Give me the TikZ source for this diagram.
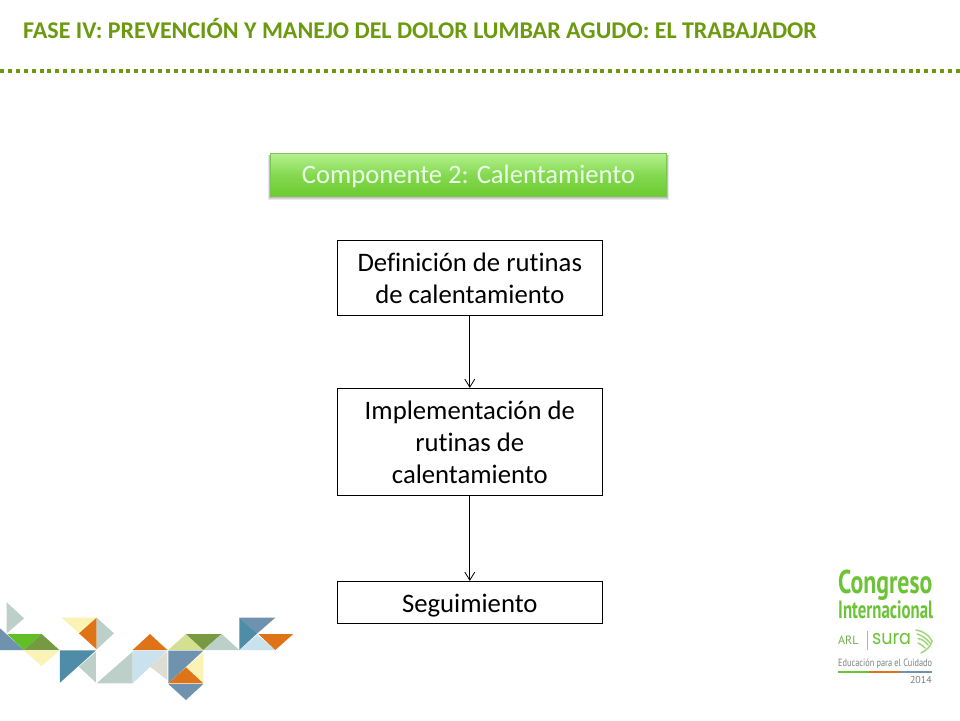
\documentclass[tikz,border=0pt]{standalone}
\usepackage{fontspec}
\usepackage{graphicx}
\setmainfont[Ligatures=CommonOff]{Carlito}
\newfontfamily\logofont{PT Sans}
\newfontfamily\surafont{Poppins}
\usetikzlibrary{arrows.meta}
\definecolor{hdr}{HTML}{6B9A0E}
\definecolor{tgray}{HTML}{BCCFC8}
\definecolor{tsteel}{HTML}{6F92AE}
\definecolor{tteal}{HTML}{4F8CA8}
\definecolor{tgreen}{HTML}{5FBF25}
\definecolor{tolive}{HTML}{769A42}
\definecolor{tyellow}{HTML}{FBF3B5}
\definecolor{torange}{HTML}{DE7417}
\definecolor{tpale}{HTML}{C9E2EE}
\definecolor{tbeige}{HTML}{DEDDD3}
\definecolor{tlime}{HTML}{D2E08F}
\definecolor{lgreen}{HTML}{6CC335}
\definecolor{lgray}{HTML}{77807F}
\definecolor{bartop}{HTML}{B4F28F}
\definecolor{barbot}{HTML}{6CCB2E}
\definecolor{baredge}{HTML}{7CC455}
\tikzset{
  flowbox/.style={draw=black,line width=0.8pt,fill=white,minimum width=265.5pt,align=center,font=\fontsize{26.7}{32}\selectfont,inner sep=0pt},
  flowarrow/.style={draw=black,line width=0.8pt,-{Straight Barb[length=8pt,width=10pt,line width=0.8pt]}},
  headbar/.style={draw=baredge,line width=0.6pt,top color=bartop,bottom color=barbot,middle color=barbot!65!bartop,minimum width=396.5pt,minimum height=43pt,inner sep=0pt,font=\fontsize{26.6}{28}\selectfont,text=white!92!green,text height=21pt,text depth=3pt},
  softshadow/.style={fill=black,opacity=0.09}
}
\newcommand{\tr}[4]{\fill[#1] #2 -- #3 -- #4 -- cycle;}
\begin{document}
\begin{tikzpicture}[x=1pt,y=-1pt]
\useasboundingbox (0,0) rectangle (960,720);
\fill[white] (0,0) rectangle (960,720);
\node[anchor=west,inner sep=0pt,text=hdr,font=\fontsize{24}{28}\selectfont\bfseries] (title) at (23,28.5) {FASE IV: PREVENCIÓN Y MANEJO DEL DOLOR LUMBAR AGUDO: EL TRABAJADOR};
\coordinate (dl) at (0,71); \coordinate (dr) at (960,71);
\draw[hdr,line width=4pt,dash pattern=on 4pt off 3.9pt] (dl) -- (dr);

\foreach \g in {0,1,2,3}{
  \fill[softshadow] (270-\g*0.7,155) rectangle (667+\g*0.7,196.5+\g);
}
\node[headbar] (comp) at (468.5,174.7) {Componente 2: Calentamiento};
\node[flowbox,minimum height=75.5pt] (b1) at (469.8,278) {Definición de rutinas\\de calentamiento};
\node[flowbox,minimum height=107.5pt] (b2) at (469.8,442) {Implementación de\\rutinas de\\calentamiento};
\node[flowbox,minimum height=42.5pt,text height=21pt,text depth=2pt] (b3) at (469.8,602.5) {Seguimiento};
\draw[flowarrow] (b1) -- (b2);
\draw[flowarrow] (b2) -- (b3);

% triangle mosaic
\begin{scope}[shift={(0,590)},x=0.3333pt,y=-0.3333pt]
\tr{tgray}{(20,37)}{(72,85)}{(20,130)}
\tr{tsteel}{(0,115)}{(72,180)}{(0,180)}
\tr{tgreen}{(22,132)}{(125,132)}{(72,180)}
\tr{tolive}{(125,132)}{(178,180)}{(72,180)}
\tr{tyellow}{(72,182)}{(178,182)}{(125,228)}
\tr{tyellow}{(185,83)}{(290,83)}{(237,130)}
\tr{torange}{(290,83)}{(290,178)}{(237,130)}
\tr{tgray}{(290,83)}{(342,130)}{(290,178)}
\tr{tteal}{(180,181)}{(288,181)}{(180,278)}
\tr{tgray}{(288,185)}{(288,278)}{(237,230)}
\tr{tgray}{(290,280)}{(398,185)}{(398,280)}
\tr{torange}{(450,132)}{(502,180)}{(398,180)}
\tr{tpale}{(398,182)}{(502,182)}{(398,280)}
\tr{tbeige}{(502,185)}{(502,270)}{(450,230)}
\tr{tlime}{(505,180)}{(558,132)}{(610,180)}
\tr{tolive}{(558,132)}{(665,132)}{(610,180)}
\tr{tgray}{(610,180)}{(665,132)}{(718,180)}
\tr{tsteel}{(505,182)}{(610,182)}{(505,280)}
\tr{tyellow}{(610,188)}{(610,280)}{(558,232)}
\tr{torange}{(558,232)}{(610,280)}{(505,280)}
\tr{tsteel}{(505,282)}{(610,282)}{(558,330)}
\tr{tsteel}{(718,83)}{(826,83)}{(772,130)}
\tr{tteal}{(718,83)}{(772,130)}{(718,180)}
\tr{tpale}{(718,180)}{(772,135)}{(826,180)}
\tr{torange}{(775,132)}{(880,132)}{(826,180)}
\end{scope}

% logo
\node[anchor=west,inner sep=0pt,text=lgreen] (lg1) at (838,585) {\scalebox{0.88}[1.22]{\logofont\fontsize{27}{27}\selectfont\bfseries Congreso}};
\node[anchor=west,inner sep=0pt,text=lgreen] (lg2) at (838,609.5) {\scalebox{0.84}[1.25]{\logofont\fontsize{20}{20}\selectfont\bfseries Internacional}};
\node[anchor=west,inner sep=0pt,text=lgreen!70!gray,font=\logofont\fontsize{12}{12}\selectfont] (lg3) at (838,640.5) {ARL};
\coordinate (sep1) at (867,631); \coordinate (sep2) at (867,650);
\draw[lgray!60,line width=0.5pt] (sep1) -- (sep2);
\node[anchor=west,inner sep=0pt,text=lgreen,font=\surafont\fontsize{20}{20}\selectfont] (lg4) at (872,639) {\scalebox{0.88}[1]{sura}};
\begin{scope}[lgreen!65!white,line width=1.5pt,line cap=round]
\draw (916,630) .. controls (923,631) and (929,635) .. (932,641);
\draw (917,634) .. controls (921,635) and (926,638) .. (930,643);
\draw (918,638.5) .. controls (921,639) and (925,641) .. (928,645);
\draw (918,643) .. controls (920,644) and (922,645) .. (925,648);
\draw (932,641) .. controls (931,646) and (927,650) .. (921,653);
\end{scope}
\node[anchor=west,inner sep=0pt,text=lgray] (lg5) at (838,663.5) {\scalebox{0.83}[1.05]{\logofont\fontsize{10}{12}\selectfont Educación para el Cuidado}};
\fill[lgreen] (838,671.2) rectangle (869,672.6);
\fill[torange] (869,671.2) rectangle (900,672.6);
\fill[tsteel] (900,671.2) rectangle (932,672.6);
\node[anchor=east,inner sep=0pt,text=lgray,font=\logofont\fontsize{10}{11}\selectfont] (lg6) at (932,679.5) {2014};
\end{tikzpicture}
\end{document}
